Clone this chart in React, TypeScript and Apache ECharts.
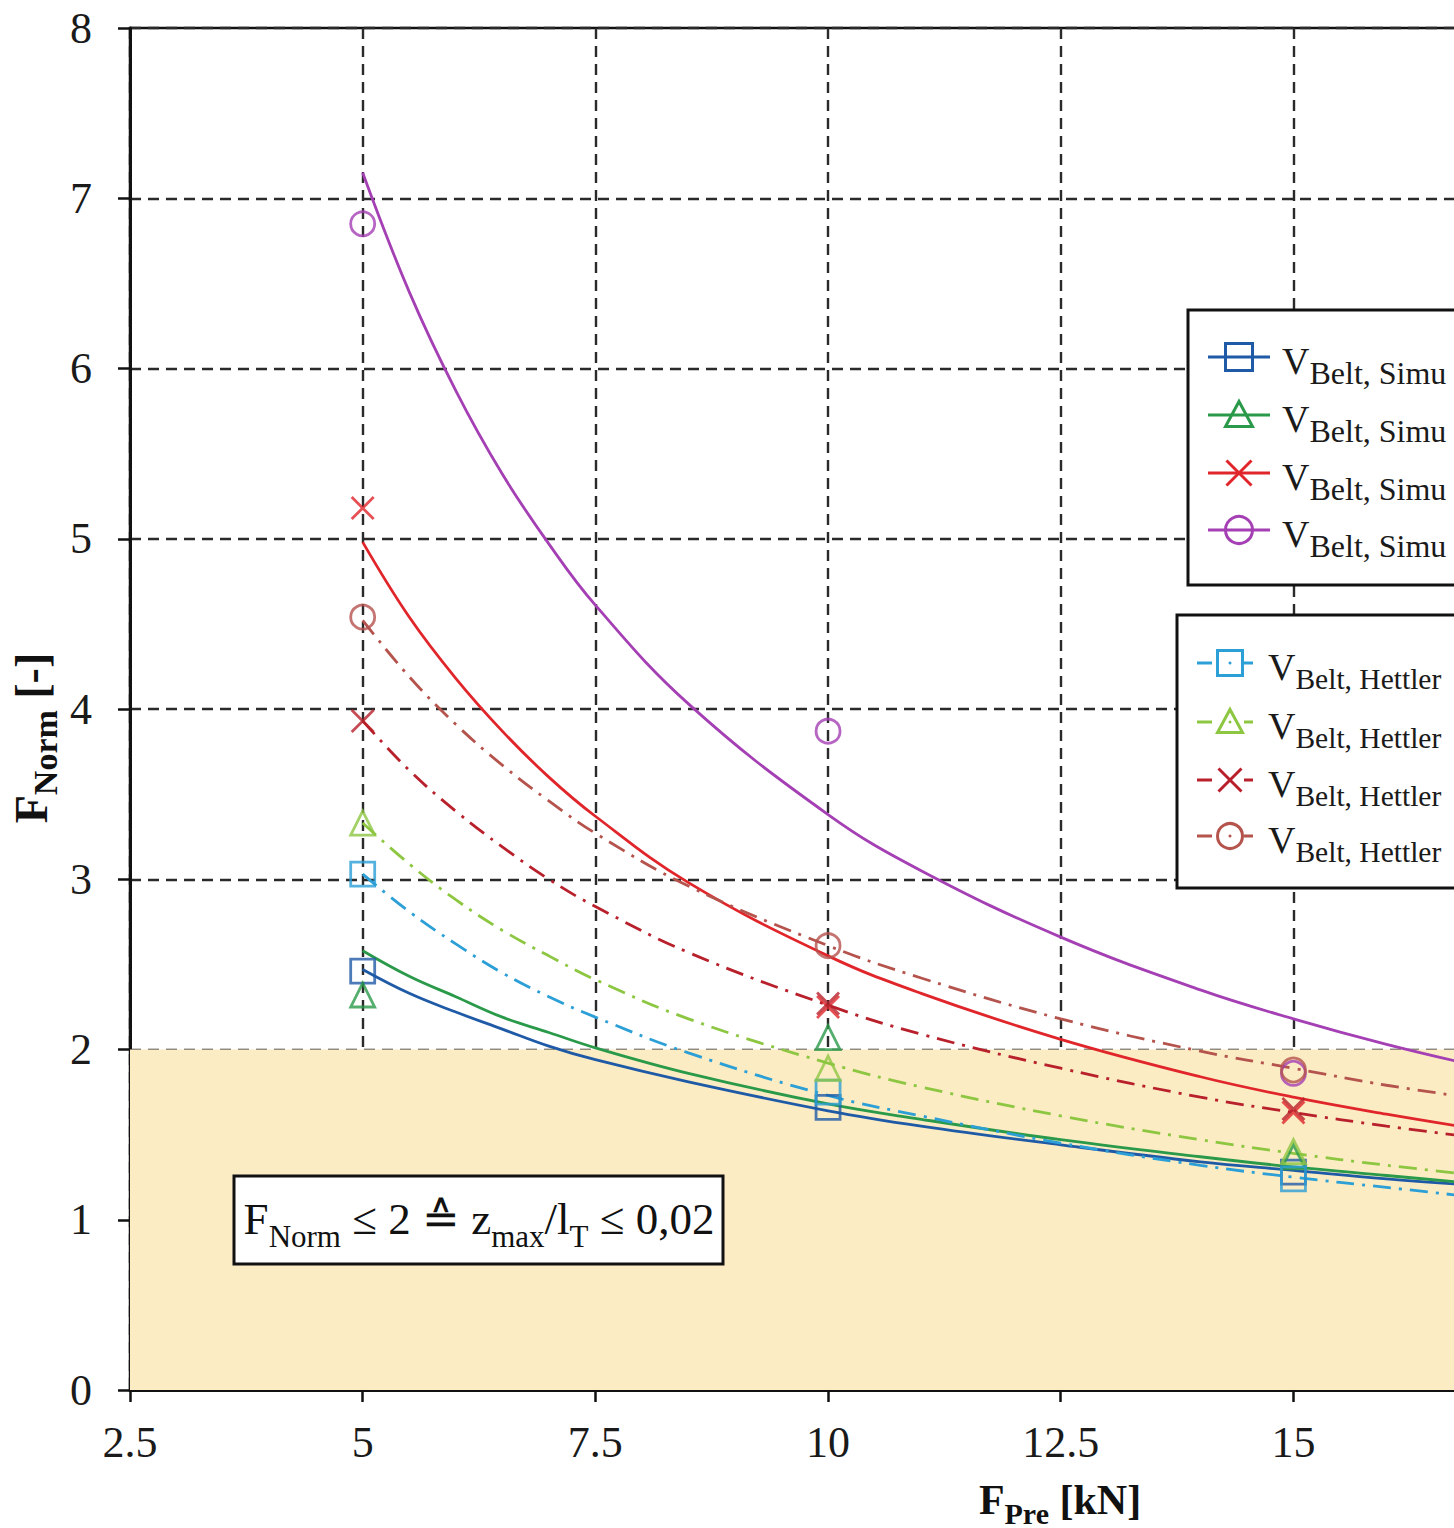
import React, { useEffect, useRef } from "react";
import * as echarts from "echarts";

const FONT = "'Liberation Serif', 'Times New Roman', serif";

// Axis ranges (x axis is cut at the right edge of the picture)
const X_MIN = 2.5;
const X_MAX = 16.94;
const X_STEP = 2.5;
const Y_MIN = 0;
const Y_MAX = 8;
const Y_STEP = 1;
const LIMIT_BAND = [0, 2];

// Measured points
const POINT_X = [5, 10, 15];
const SIMU_SQUARE = [2.46, 1.66, 1.28];
const SIMU_TRIANGLE = [2.32, 2.07, 1.37];
const SIMU_CROSS = [5.18, 2.25, 1.63];
const SIMU_CIRCLE = [6.85, 3.87, 1.86];
const HETTLER_SQUARE = [3.03, 1.75, 1.24];
const HETTLER_TRIANGLE = [3.33, 1.89, 1.4];
const HETTLER_CROSS = [3.93, 2.27, 1.65];
const HETTLER_CIRCLE = [4.54, 2.61, 1.88];

// Trend lines
const TREND_X = [5, 5.5, 6, 6.5, 7, 7.5, 8.5, 10, 11, 12.5, 14, 15, 16, 17];
const SIMU_SQUARE_TREND = [2.47, 2.33, 2.22, 2.12, 2.02, 1.94, 1.81, 1.64, 1.55, 1.44, 1.34, 1.29, 1.24, 1.2];
const SIMU_TRIANGLE_TREND = [2.58, 2.43, 2.31, 2.19, 2.1, 2.01, 1.86, 1.68, 1.59, 1.47, 1.37, 1.31, 1.26, 1.21];
const SIMU_CROSS_TREND = [4.98, 4.54, 4.18, 3.87, 3.6, 3.37, 2.98, 2.55, 2.33, 2.06, 1.84, 1.72, 1.62, 1.53];
const SIMU_CIRCLE_TREND = [7.15, 6.45, 5.87, 5.38, 4.97, 4.61, 4.03, 3.38, 3.05, 2.66, 2.35, 2.18, 2.03, 1.9];
const HETTLER_SQUARE_TREND = [3.03, 2.81, 2.62, 2.45, 2.31, 2.19, 1.98, 1.73, 1.61, 1.45, 1.32, 1.25, 1.19, 1.13];
const HETTLER_TRIANGLE_TREND = [3.33, 3.09, 2.88, 2.7, 2.55, 2.41, 2.18, 1.92, 1.78, 1.61, 1.47, 1.39, 1.32, 1.26];
const HETTLER_CROSS_TREND = [3.93, 3.64, 3.4, 3.19, 3.0, 2.84, 2.57, 2.26, 2.09, 1.89, 1.72, 1.63, 1.55, 1.48];
const HETTLER_CIRCLE_TREND = [4.52, 4.19, 3.91, 3.67, 3.46, 3.27, 2.96, 2.61, 2.42, 2.18, 1.99, 1.89, 1.79, 1.71];

const SIMU_LABEL = "Belt, Simu";
const HETTLER_LABEL = "Belt, Hettler";

const CROSS_PATH = "path://M0,0L10,10M0,10L10,0";

type Kind = "square" | "triangle" | "cross" | "circle";

const DEFS: { name: string; kind: Kind; color: string; dashed: boolean; pts: number[]; trend: number[] }[] = [
  { name: "Simu square", kind: "square", color: "#1f5aa6", dashed: false, pts: SIMU_SQUARE, trend: SIMU_SQUARE_TREND },
  { name: "Simu triangle", kind: "triangle", color: "#2a9a4a", dashed: false, pts: SIMU_TRIANGLE, trend: SIMU_TRIANGLE_TREND },
  { name: "Simu cross", kind: "cross", color: "#e0262b", dashed: false, pts: SIMU_CROSS, trend: SIMU_CROSS_TREND },
  { name: "Simu circle", kind: "circle", color: "#a43fb4", dashed: false, pts: SIMU_CIRCLE, trend: SIMU_CIRCLE_TREND },
  { name: "Hettler square", kind: "square", color: "#2b9fd6", dashed: true, pts: HETTLER_SQUARE, trend: HETTLER_SQUARE_TREND },
  { name: "Hettler triangle", kind: "triangle", color: "#8dc641", dashed: true, pts: HETTLER_TRIANGLE, trend: HETTLER_TRIANGLE_TREND },
  { name: "Hettler cross", kind: "cross", color: "#b8202b", dashed: true, pts: HETTLER_CROSS, trend: HETTLER_CROSS_TREND },
  { name: "Hettler circle", kind: "circle", color: "#b5534d", dashed: true, pts: HETTLER_CIRCLE, trend: HETTLER_CIRCLE_TREND },
];

const DASH_DOT = [18, 8, 3, 8];

// Canvas is a bit wider than the visible picture, so the axis continues past the cut edge
const VIEW_W = 1454;
const VIEW_H = 1528;
const CHART_W = 1480;

function symbolOf(kind: Kind) {
  if (kind === "square") return "rect";
  if (kind === "triangle") return "triangle";
  if (kind === "circle") return "circle";
  return CROSS_PATH;
}

function legendMarker(kind: Kind, cx: number, cy: number, color: string, s: number) {
  const style = { fill: "rgba(0,0,0,0)", stroke: color, lineWidth: 3 };
  if (kind === "square")
    return [{ type: "rect", z: 100, shape: { x: cx - s / 2, y: cy - s / 2, width: s, height: s }, style }];
  if (kind === "triangle")
    return [{
      type: "polygon", z: 100,
      shape: { points: [[cx, cy - s / 2], [cx + s / 2, cy + s / 2 - 2], [cx - s / 2, cy + s / 2 - 2]] },
      style,
    }];
  if (kind === "circle")
    return [{ type: "circle", z: 100, shape: { cx, cy, r: s / 2 }, style }];
  const h = s / 2 - 1;
  return [
    { type: "line", z: 100, shape: { x1: cx - h, y1: cy - h, x2: cx + h, y2: cy + h }, style: { stroke: color, lineWidth: 3 } },
    { type: "line", z: 100, shape: { x1: cx - h, y1: cy + h, x2: cx + h, y2: cy - h }, style: { stroke: color, lineWidth: 3 } },
  ];
}

function legendText(x: number, y: number, sub: string, subSize: number) {
  return {
    type: "text", z: 101, x, y,
    style: {
      text: `{v|V}{s|${sub}}`,
      align: "left",
      verticalAlign: "middle",
      fill: "#1a1a1a",
      rich: {
        v: { fontSize: 38, fontFamily: FONT, fill: "#1a1a1a" },
        s: { fontSize: subSize, fontFamily: FONT, fill: "#1a1a1a", padding: [23, 0, 0, 0] },
      },
    },
  };
}

function buildGraphic() {
  const els: any[] = [];
  // Legend box 1 (simulation)
  els.push({ type: "rect", z: 99, shape: { x: 1188, y: 310, width: 400, height: 275 }, style: { fill: "#fff", stroke: "#111", lineWidth: 3 } });
  const y1 = [357, 415, 473, 530];
  DEFS.slice(0, 4).forEach((d, i) => {
    els.push({ type: "line", z: 100, shape: { x1: 1208, y1: y1[i], x2: 1270, y2: y1[i] }, style: { stroke: d.color, lineWidth: 3 } });
    els.push(...legendMarker(d.kind, 1239, y1[i], d.color, 27));
    els.push(legendText(1282, y1[i] + 4, SIMU_LABEL, 32));
  });
  // Legend box 2 (Hettler)
  els.push({ type: "rect", z: 99, shape: { x: 1177, y: 615, width: 400, height: 273 }, style: { fill: "#fff", stroke: "#111", lineWidth: 3 } });
  const y2 = [663, 722, 780, 836];
  DEFS.slice(4).forEach((d, i) => {
    els.push({ type: "line", z: 100, shape: { x1: 1197, y1: y2[i], x2: 1212, y2: y2[i] }, style: { stroke: d.color, lineWidth: 3 } });
    els.push({ type: "line", z: 100, shape: { x1: 1244, y1: y2[i], x2: 1253, y2: y2[i] }, style: { stroke: d.color, lineWidth: 3 } });
    els.push(...legendMarker(d.kind, 1230, y2[i], d.color, 25));
    els.push({ type: "circle", z: 100, shape: { cx: 1230, cy: y2[i], r: 1.5 }, style: { fill: d.color } });
    els.push(legendText(1268, y2[i] + 4, HETTLER_LABEL, 29.5));
  });
  // Annotation box
  els.push({ type: "rect", z: 99, shape: { x: 234, y: 1176, width: 489, height: 88 }, style: { fill: "#fff", stroke: "#111", lineWidth: 3 } });
  els.push({
    type: "text", z: 101, x: 479, y: 1219,
    style: {
      text: "{m|F}{s|Norm}{m| ≤ 2 ≙ z}{s|max}{m|/l}{s|T}{m| ≤ 0,02}",
      align: "center",
      verticalAlign: "middle",
      rich: {
        m: { fontSize: 45, fontFamily: FONT, fill: "#111" },
        s: { fontSize: 31, fontFamily: FONT, fill: "#111", padding: [34, 0, 0, 0] },
      },
    },
  });
  // Axis names
  els.push({
    type: "text", z: 101, x: 1060, y: 1500,
    style: {
      text: "{m|F}{s|Pre}{m| [kN]}",
      align: "center",
      verticalAlign: "middle",
      rich: {
        m: { fontSize: 42, fontFamily: FONT, fontWeight: "bold", fill: "#111" },
        s: { fontSize: 30, fontFamily: FONT, fontWeight: "bold", fill: "#111", padding: [26, 0, 0, 0] },
      },
    },
  });
  els.push({
    type: "text", z: 101, x: 31, y: 738, rotation: Math.PI / 2,
    style: {
      text: "{m|F}{s|Norm}{m| [-]}",
      align: "center",
      verticalAlign: "middle",
      rich: {
        m: { fontSize: 46, fontFamily: FONT, fontWeight: "bold", fill: "#111" },
        s: { fontSize: 34, fontFamily: FONT, fontWeight: "bold", fill: "#111", padding: [28, 0, 0, 0] },
      },
    },
  });
  return els;
}

function buildOption(): any {
  const series: any[] = [
    {
      type: "line",
      name: "limit",
      data: [],
      z: -1,
      silent: true,
      markArea: {
        silent: true,
        itemStyle: { color: "#fcecc4" },
        data: [[{ yAxis: LIMIT_BAND[0] }, { yAxis: LIMIT_BAND[1] }]],
      },
    },
  ];
  DEFS.forEach((d) => {
    series.push({
      type: "line",
      name: d.name + " trend",
      data: TREND_X.map((x, i) => [x, d.trend[i]]),
      smooth: 0.4,
      showSymbol: false,
      symbol: "none",
      z: 2,
      lineStyle: { color: d.color, width: 2.8, type: d.dashed ? DASH_DOT : "solid" },
    });
    series.push({
      type: "scatter",
      name: d.name,
      data: POINT_X.map((x, i) => [x, d.pts[i]]),
      symbol: symbolOf(d.kind),
      symbolSize: d.kind === "cross" ? 22 : 24,
      z: 3,
      itemStyle: { color: "rgba(255,255,255,0)", borderColor: d.color, borderWidth: 2.8 },
    });
  });

  return {
    animation: false,
    backgroundColor: "#ffffff",
    textStyle: { fontFamily: FONT },
    grid: {
      left: 130,
      top: 28,
      bottom: 138,
      right: 6,
      show: true,
      backgroundColor: "rgba(0,0,0,0)",
      borderColor: "#111",
      borderWidth: 2.5,
    },
    xAxis: {
      type: "value",
      min: X_MIN,
      max: X_MAX,
      interval: X_STEP,
      axisLine: { show: true, onZero: false, lineStyle: { color: "#111", width: 3 } },
      axisTick: { show: true, inside: false, length: 12, lineStyle: { color: "#111", width: 2.5 } },
      axisLabel: {
        margin: 30,
        fontSize: 44,
        fontFamily: FONT,
        color: "#1a1a1a",
        showMaxLabel: false,
        formatter: (v: number) => (Math.abs(v / X_STEP - Math.round(v / X_STEP)) < 1e-6 ? String(v) : ""),
      },
      splitLine: { show: true, lineStyle: { color: "#2a2a2a", width: 2.4, type: [11, 7] } },
    },
    yAxis: {
      type: "value",
      min: Y_MIN,
      max: Y_MAX,
      interval: Y_STEP,
      axisLine: { show: true, lineStyle: { color: "#111", width: 3 } },
      axisTick: { show: true, inside: false, length: 12, lineStyle: { color: "#111", width: 2.5 } },
      axisLabel: { margin: 38, fontSize: 44, fontFamily: FONT, color: "#1a1a1a" },
      splitLine: { show: true, lineStyle: { color: "#2a2a2a", width: 2.4, type: [11, 7] } },
    },
    series,
    graphic: { elements: buildGraphic() },
  };
}

export default function App() {
  const ref = useRef<HTMLDivElement>(null);
  useEffect(() => {
    if (!ref.current) return;
    const chart = echarts.init(ref.current, null, { renderer: "svg" });
    chart.setOption(buildOption());
    return () => chart.dispose();
  }, []);
  return (
    <div style={{ position: "fixed", left: 0, top: 0, width: VIEW_W, height: VIEW_H, overflow: "hidden", background: "#fff" }}>
      <div ref={ref} style={{ width: CHART_W, height: VIEW_H }} />
    </div>
  );
}
